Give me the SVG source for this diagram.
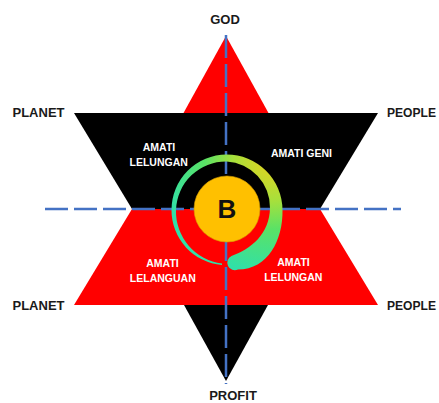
<svg xmlns="http://www.w3.org/2000/svg" width="439" height="403" viewBox="0 0 439 403">
  <style>
    .lbl { font-family: "Liberation Sans", Arial, sans-serif; font-weight: bold; font-size: 13px; fill: #1a1a1a; }
    .in { font-family: "Liberation Sans", Arial, sans-serif; font-weight: bold; font-size: 10.5px; fill: #ffffff; text-anchor: middle; }
    .dash { stroke: #4472C4; stroke-width: 2.5; stroke-dasharray: 23 6; fill: none; }
  </style>
  <defs>
    <radialGradient id="ringGrad" gradientUnits="userSpaceOnUse" cx="272" cy="162" r="112">
      <stop offset="0" stop-color="#e6d21e"/>
      <stop offset="0.35" stop-color="#a6e03c"/>
      <stop offset="0.6" stop-color="#5ae266"/>
      <stop offset="1" stop-color="#30e0a8"/>
    </radialGradient>
  </defs>
  <rect width="439" height="403" fill="#ffffff"/>

  <g id="star">
    <polygon points="226,36 183.5,113 268.5,113" fill="#ff0000"/>
    <polygon points="74,113 378,113 320,209 132,209" fill="#000000"/>
    <polygon points="132,209 320,209 378,305 74,305" fill="#ff0000"/>
    <polygon points="184,305 268,305 226,381" fill="#000000"/>
  </g>

  <g id="connectors">
    <line class="dash" x1="226" y1="35" x2="226" y2="384"/>
    <line class="dash" x1="45" y1="209" x2="401" y2="209"/>
  </g>

  <g id="ring">
    <path d="M 222,265 A 55 55 0 0 1 171.5,210 A 55.5 55.5 0 0 1 226.7,154.5 A 55.8 55.8 0 0 1 282.5,210 C 283,240 268,269.5 238,269.5 A 6.8 6.8 0 0 1 231.5,256 C 251,249 269.5,234 270,208 A 46 46 0 0 0 226.7,161.5 A 50 50 0 0 0 176,210 A 52.5 52.5 0 0 0 222,263.5 Z" fill="url(#ringGrad)"/>
  </g>

  <g id="node-b">
    <circle cx="227" cy="209" r="33" fill="#ffc000" stroke="#d9a000" stroke-width="0.6"/>
    <text x="227" y="218" font-family="Liberation Sans, Arial, sans-serif" font-weight="bold" font-size="26" fill="#111111" text-anchor="middle">B</text>
  </g>

  <g id="god"><text class="lbl" x="225" y="23.5" text-anchor="middle">GOD</text></g>
  <g id="profit"><text class="lbl" x="233" y="399.5" text-anchor="middle">PROFIT</text></g>
  <g id="planet-top"><text class="lbl" x="12.5" y="116.5">PLANET</text></g>
  <g id="people-top"><text class="lbl" x="387" y="116.5" textLength="49" lengthAdjust="spacingAndGlyphs">PEOPLE</text></g>
  <g id="planet-bottom"><text class="lbl" x="12.5" y="310">PLANET</text></g>
  <g id="people-bottom"><text class="lbl" x="387" y="310" textLength="49" lengthAdjust="spacingAndGlyphs">PEOPLE</text></g>

  <g id="amati-lelungan-top">
    <text class="in" x="159" y="150.5">AMATI</text>
    <text class="in" x="158.7" y="165.5">LELUNGAN</text>
  </g>
  <g id="amati-geni">
    <text class="in" x="301.5" y="156.5">AMATI GENI</text>
  </g>
  <g id="amati-lelanguan">
    <text class="in" x="162.5" y="266.5">AMATI</text>
    <text class="in" x="162.8" y="282">LELANGUAN</text>
  </g>
  <g id="amati-lelungan-bottom">
    <text class="in" x="293.5" y="266">AMATI</text>
    <text class="in" x="293.3" y="280.5">LELUNGAN</text>
  </g>
</svg>
